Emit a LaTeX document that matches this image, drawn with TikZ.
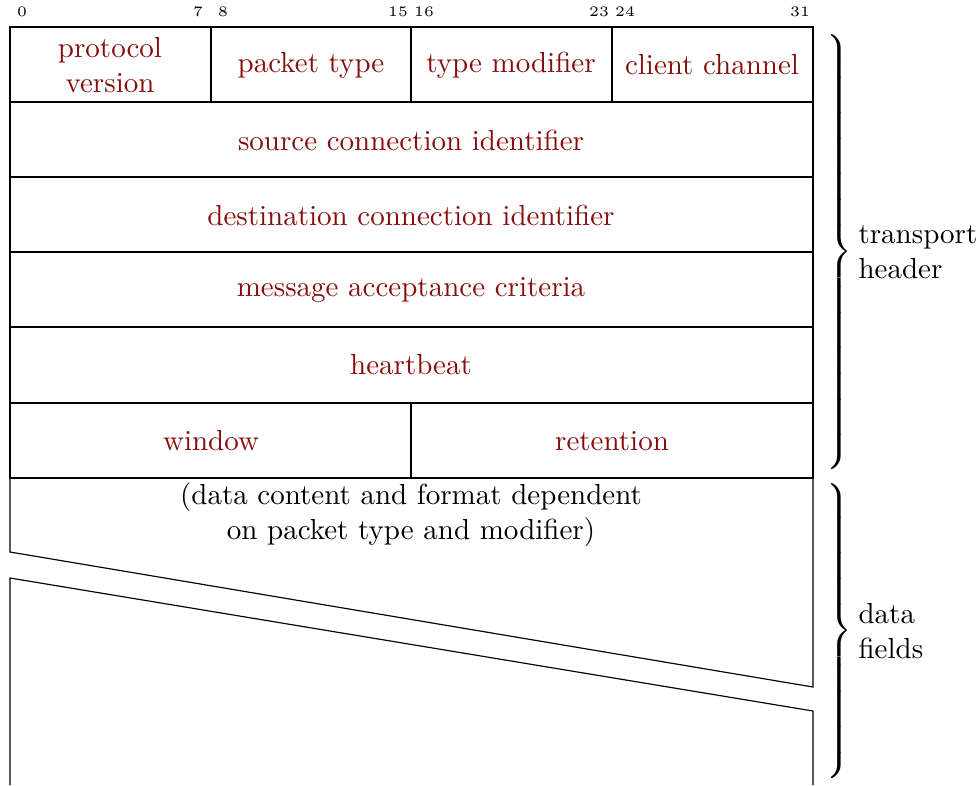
\documentclass[tikz,border=0pt]{standalone}
\definecolor{fieldred}{RGB}{135,12,12}
\newcommand{\mybrace}[1]{$\nulldelimiterspace=0pt\left.\vcenter{\hbox{\rule{0pt}{#1}}}\right\}$}
\tikzset{
  fieldtext/.style={text=fieldred, align=center, inner sep=0pt},
  bitnum/.style={font=\tiny, inner sep=0pt},
  grid/.style={line width=0.4pt},
  bracelbl/.style={anchor=west, align=left, inner sep=0pt},
}
\begin{document}
\begin{tikzpicture}[x=0.3448pt, y=-0.3448pt]
\useasboundingbox (0,0) rectangle (979,785);
% bit numbers
\node[bitnum] (b0) at (22,12) {0};
\node[bitnum] (b7) at (198,12) {7};
\node[bitnum] (b8) at (223,12) {8};
\node[bitnum] (b15) at (398,12) {15};
\node[bitnum] (b16) at (424,12) {16};
\node[bitnum] (b23) at (599,12) {23};
\node[bitnum] (b24) at (625,12) {24};
\node[bitnum] (b31) at (800,12) {31};
% header grid
\draw[grid] (10,27) rectangle (813,478);
\foreach \yy in {102,177,252,327,403} \draw[grid] (10,\yy) -- (813,\yy);
\draw[grid] (211,27) -- (211,102);
\draw[grid] (411,27) -- (411,102);
\draw[grid] (612,27) -- (612,102);
\draw[grid] (411,403) -- (411,478);
% field texts
\node[fieldtext] (pv) at (110,65) {protocol\\version};
\node[fieldtext] (pt) at (311,65) {packet type};
\node[fieldtext] (tm) at (511,65) {type modifier};
\node[fieldtext] (cc) at (712,65) {client channel};
\node[fieldtext] (sci) at (411,140) {source connection identifier};
\node[fieldtext] (dci) at (411,215) {destination connection identifier};
\node[fieldtext] (mac) at (411,290) {message acceptance criteria};
\node[fieldtext] (hb) at (411,365) {heartbeat};
\node[fieldtext] (win) at (211,441) {window};
\node[fieldtext] (ret) at (612,441) {retention};
% data fields
\draw[grid] (10,552) -- (10,478) -- (813,478) -- (813,687) -- cycle;
\draw[grid] (10,785) -- (10,578) -- (813,711) -- (813,785);
\node[align=center, inner sep=0pt] (data) at (411,515) {(data content and format dependent\\on packet type and modifier)};
% braces
\node[inner sep=0pt] (br1) at (839,252) {\mybrace{153pt}};
\node[bracelbl] (th) at (858,252) {transport\\header};
\node[inner sep=0pt] (br2) at (839,631) {\mybrace{104pt}};
\node[bracelbl] (df) at (858,631) {data\\fields};
\end{tikzpicture}
\end{document}
